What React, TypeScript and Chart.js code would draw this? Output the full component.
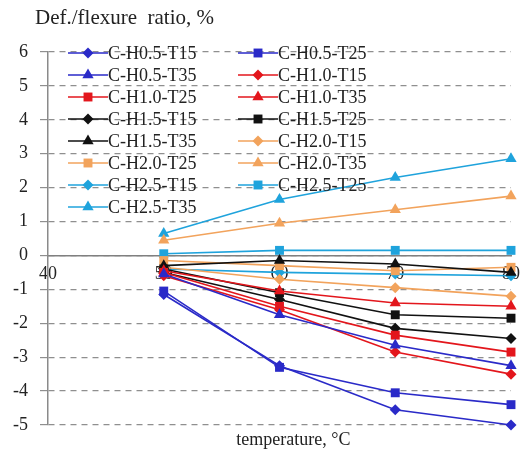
import React, { useEffect, useRef } from 'react';
import { Chart, registerables } from 'chart.js';

Chart.register(...registerables);

const temperatures = [50, 60, 70, 80];
const xAxisTicks = [40, 50, 60, 70, 80];
const yTickMin = -5;
const yTickMax = 6;

const seriesNames = [
  'C-H0.5-T15', 'C-H0.5-T25', 'C-H0.5-T35',
  'C-H1.0-T15', 'C-H1.0-T25', 'C-H1.0-T35',
  'C-H1.5-T15', 'C-H1.5-T25', 'C-H1.5-T35',
  'C-H2.0-T15', 'C-H2.0-T25', 'C-H2.0-T35',
  'C-H2.5-T15', 'C-H2.5-T25', 'C-H2.5-T35',
];

const H05_T15 = [-1.15, -3.25, -4.55, -5.0];
const H05_T25 = [-1.05, -3.3, -4.05, -4.4];
const H05_T35 = [-0.55, -1.75, -2.65, -3.25];
const H10_T15 = [-0.6, -1.6, -2.85, -3.5];
const H10_T25 = [-0.5, -1.5, -2.35, -2.85];
const H10_T35 = [-0.45, -1.05, -1.4, -1.5];
const H15_T15 = [-0.5, -1.3, -2.15, -2.45];
const H15_T25 = [-0.4, -1.1, -1.75, -1.85];
const H15_T35 = [-0.3, -0.15, -0.25, -0.5];
const H20_T15 = [-0.35, -0.7, -0.95, -1.2];
const H20_T25 = [-0.15, -0.3, -0.45, -0.35];
const H20_T35 = [0.45, 0.95, 1.35, 1.75];
const H25_T15 = [-0.4, -0.5, -0.55, -0.6];
const H25_T25 = [0.05, 0.15, 0.15, 0.15];
const H25_T35 = [0.65, 1.65, 2.3, 2.85];

const seriesValues = [
  H05_T15, H05_T25, H05_T35,
  H10_T15, H10_T25, H10_T35,
  H15_T15, H15_T25, H15_T35,
  H20_T15, H20_T25, H20_T35,
  H25_T15, H25_T25, H25_T35,
];

const groupColors = ['#2a2ac8', '#e3161c', '#111111', '#f2a35c', '#1fa3dc'];
const markerStyles = ['rectRot', 'rect', 'triangle'];
const markerRadius: Record<string, number> = { rectRot: 5.5, rect: 6.3, triangle: 6.5 };

const FONT = '"Liberation Serif", "Times New Roman", serif';

function drawMarker(ctx: CanvasRenderingContext2D, style: string, x: number, y: number, r: number) {
  ctx.beginPath();
  if (style === 'rectRot') {
    ctx.moveTo(x - r, y);
    ctx.lineTo(x, y - r);
    ctx.lineTo(x + r, y);
    ctx.lineTo(x, y + r);
  } else if (style === 'rect') {
    const s = r * Math.SQRT1_2;
    ctx.rect(x - s, y - s, 2 * s, 2 * s);
  } else {
    for (let k = 0; k < 3; k++) {
      const a = (k * 2 * Math.PI) / 3;
      const px = x + Math.sin(a) * r;
      const py = y - Math.cos(a) * r;
      if (k === 0) ctx.moveTo(px, py);
      else ctx.lineTo(px, py);
    }
  }
  ctx.closePath();
  ctx.fill();
}

const legendPlugin = {
  id: 'lineMarkerLegend',
  afterDraw(chart: any) {
    const ctx = chart.ctx as CanvasRenderingContext2D;
    const ca = chart.chartArea;
    ctx.save();
    ctx.font = `18px ${FONT}`;
    ctx.textBaseline = 'middle';
    ctx.textAlign = 'left';
    chart.data.datasets.forEach((ds: any, i: number) => {
      const row = Math.floor(i / 2);
      const col = i % 2;
      const x0 = ca.left + 20 + col * 170;
      const y = ca.top + 1 + row * 22;
      ctx.strokeStyle = ds.borderColor;
      ctx.lineWidth = 1.6;
      ctx.beginPath();
      ctx.moveTo(x0, y);
      ctx.lineTo(x0 + 40, y);
      ctx.stroke();
      ctx.fillStyle = ds.pointBackgroundColor;
      drawMarker(ctx, ds.pointStyle, x0 + 20, y, ds.pointRadius);
      ctx.fillStyle = '#222';
      ctx.fillText(ds.label, x0 + 40, y + 1);
    });
    ctx.restore();
  },
};

const titlesPlugin = {
  id: 'axisTitles',
  afterDraw(chart: any) {
    const ctx = chart.ctx as CanvasRenderingContext2D;
    const ca = chart.chartArea;
    ctx.save();
    ctx.fillStyle = '#222';
    ctx.textBaseline = 'middle';
    ctx.textAlign = 'left';
    ctx.font = `21px ${FONT}`;
    ctx.fillText('Def./flexure  ratio, %', 35, 18);
    ctx.textAlign = 'center';
    ctx.font = `18px ${FONT}`;
    ctx.fillText('temperature, \u00B0C', ca.left + (ca.right - ca.left) * 0.53, 440);
    ctx.restore();
  },
};

export default function App() {
  const ref = useRef<HTMLCanvasElement | null>(null);

  useEffect(() => {
    if (!ref.current) return;
    const datasets = seriesNames.map((name, i) => {
      const color = groupColors[Math.floor(i / 3)];
      const style = markerStyles[i % 3];
      return {
        label: name,
        data: temperatures.map((t, j) => ({ x: t, y: seriesValues[i][j] })),
        borderColor: color,
        backgroundColor: color,
        pointBackgroundColor: color,
        pointBorderColor: color,
        pointBorderWidth: 0,
        pointStyle: style,
        pointRadius: markerRadius[style],
        borderWidth: 1.6,
        tension: 0,
        clip: false as any,
      };
    });

    const chart = new Chart(ref.current, {
      type: 'line',
      data: { datasets },
      options: {
        animation: false,
        responsive: false,
        layout: { padding: { top: 52, bottom: 34, left: 0, right: 8 } },
        plugins: {
          legend: { display: false },
          tooltip: { enabled: false },
          title: { display: false },
        },
        scales: {
          x: {
            type: 'linear',
            position: { y: 0 } as any,
            min: xAxisTicks[0],
            max: xAxisTicks[xAxisTicks.length - 1],
            afterBuildTicks: (s: any) => {
              s.ticks = xAxisTicks.map((v) => ({ value: v }));
            },
            grid: { display: false },
            border: { display: true, color: '#808080', width: 1.5 },
            ticks: {
              padding: 0,
              color: '#222',
              font: { family: FONT, size: 18 },
              maxRotation: 0,
            },
          },
          y: {
            type: 'linear',
            position: 'left',
            min: yTickMin,
            max: yTickMax,
            afterFit: (s: any) => {
              s.width = 48;
            },
            grid: {
              color: '#8f8f8f',
              lineWidth: 1.2,
              tickLength: 8,
              tickColor: '#8f8f8f',
            },
            border: { display: true, color: '#8a8a8a', width: 1.5, dash: [6, 5] },
            ticks: {
              stepSize: 1,
              padding: 12,
              color: '#222',
              font: { family: FONT, size: 18 },
            },
          },
        },
      },
      plugins: [legendPlugin, titlesPlugin],
    });
    return () => chart.destroy();
  }, []);

  return (
    <div style={{ position: 'absolute', left: 0, top: 0, width: 520, height: 459, background: '#fff' }}>
      <canvas ref={ref} width={520} height={459} style={{ display: 'block' }} />
    </div>
  );
}
